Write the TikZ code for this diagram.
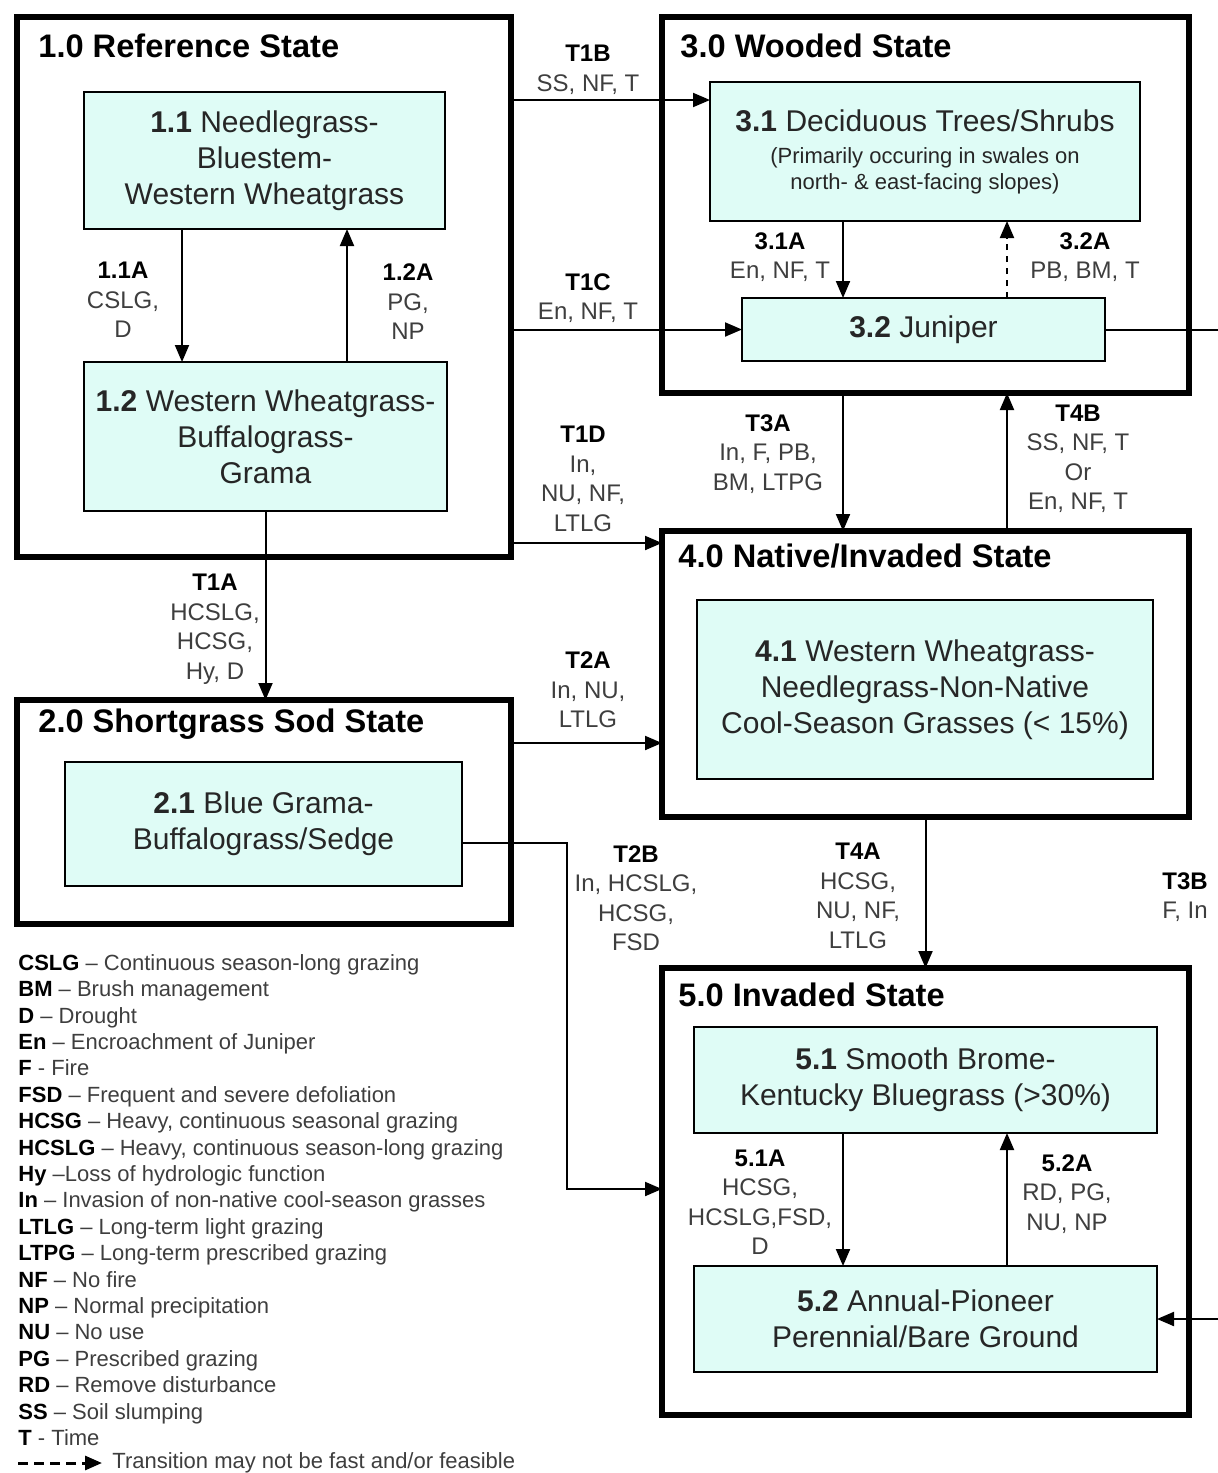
\documentclass[tikz,border=0pt]{standalone}
\usepackage{fontspec}
\setmainfont{Liberation Sans}
\usepackage{tikz}
\usepackage{xcolor}
\usetikzlibrary{arrows.meta}
\definecolor{boxfill}{RGB}{223,252,246}
\definecolor{lblgray}{RGB}{62,62,62}
\newcommand{\tcode}[1]{{\color{black}\bfseries #1}}
\newcommand{\subnote}[1]{{\fontsize{11}{13}\selectfont #1}}

\begin{document}
\begin{tikzpicture}[x=0.5pt,y=-0.5pt,>={Triangle[length=8.5pt,width=7pt]},
    state/.style={draw,line width=3pt,inner sep=0pt,outer sep=0pt},
    title/.style={anchor=west,inner sep=0pt,font=\fontsize{16.3}{19}\selectfont\bfseries},
    gbox/.style={draw,line width=1pt,fill=boxfill,inner sep=0pt,outer sep=0pt,align=center,
        text=black!85,font=\fontsize{15}{18}\selectfont},
    lbl/.style={align=center,inner sep=0pt,text=lblgray,font=\fontsize{12}{14.75}\selectfont},
    legend/.style={align=left,inner sep=0pt,text=lblgray,font=\fontsize{11}{13.2}\selectfont}]
        \useasboundingbox (0,0) rectangle (1218,1473);

        \node[state,minimum width=247pt,minimum height=270pt] (s1) at (264,287) {};
        \node[state,minimum width=247pt,minimum height=112pt] (s2) at (264,812) {};
        \node[state,minimum width=263.5pt,minimum height=188pt] (s3) at (925.5,205) {};
        \node[state,minimum width=263.5pt,minimum height=143pt] (s4) at (925.5,674) {};
        \node[state,minimum width=263.5pt,minimum height=223.5pt] (s5) at (925.5,1191.5) {};

        \node[title] (t1) at (38,46) {1.0 Reference State};
        \node[title] (t2) at (38,724) {2.0 Shortgrass Sod State};
        \node[title] (t3) at (680,46) {3.0 Wooded State};
        \node[title] (t4) at (678,556) {4.0 Native/Invaded State};
        \node[title] (t5) at (678,995) {5.0 Invaded State};

        \node[gbox,minimum width=180.5pt,minimum height=68.5pt] (b11) at (264.5,160.5)
            {\textbf{1.1} Needlegrass-\\Bluestem-\\Western Wheatgrass};
        \node[gbox,minimum width=181.5pt,minimum height=74.5pt] (b12) at (265.5,436.5)
            {\textbf{1.2} Western Wheatgrass-\\Buffalograss-\\Grama};
        \node[gbox,minimum width=198.5pt,minimum height=62pt] (b21) at (263.5,824)
            {\textbf{2.1} Blue Grama-\\Buffalograss/Sedge};
        \node[gbox,minimum width=215pt,minimum height=69.5pt] (b31) at (925,151.5)
            {\textbf{3.1} Deciduous Trees/Shrubs\\[-2pt]\subnote{(Primarily occuring in swales on}\\[-5pt]
             \subnote{north- \& east-facing slopes)}};
        \node[gbox,minimum width=181.5pt,minimum height=31.5pt] (b32) at (923.5,329.5)
            {\textbf{3.2} Juniper};
        \node[gbox,minimum width=228pt,minimum height=89.5pt] (b41) at (925,689.5)
            {\textbf{4.1} Western Wheatgrass-\\Needlegrass-Non-Native\\Cool-Season Grasses (< 15\%)};
        \node[gbox,minimum width=231.5pt,minimum height=53pt] (b51) at (925.5,1080)
            {\textbf{5.1} Smooth Brome-\\Kentucky Bluegrass (>30\%)};
        \node[gbox,minimum width=231.5pt,minimum height=53pt] (b52) at (925.5,1319)
            {\textbf{5.2} Annual-Pioneer\\Perennial/Bare Ground};

        \draw[->,line width=1pt] (b11.south -| 182,0) -- (b12.north -| 182,0);
        \draw[->,line width=1pt] (b12.north -| 347,0) -- (b11.south -| 347,0);
        \draw[->,line width=1pt] (b12.south) -- (b12.south |- s2.north);
        \draw[->,line width=1pt] (s1.east |- 0,100) -- (b31.west |- 0,100);
        \draw[->,line width=1pt] (s1.east |- b32.west) -- (b32.west);
        \draw[->,line width=1pt] (s1.east |- 0,543) -- (s4.west |- 0,543);
        \draw[->,line width=1pt] (s2.east |- 0,743) -- (s4.west |- 0,743);
        \draw[->,line width=1pt] (b21.east |- 0,843) -- ++(105,0) |- (s5.west |- 0,1189);
        \draw[->,line width=1pt] (b31.south -| 843,0) -- (b32.north -| 843,0);
        \draw[->,line width=1pt,dashed] (b32.north -| 1007,0) -- (b31.south -| 1007,0);
        \draw[->,line width=1pt] (s3.south -| 843,0) -- (s4.north -| 843,0);
        \draw[->,line width=1pt] (s4.north -| 1007,0) -- (s3.south -| 1007,0);
        \draw[->,line width=1pt] (s4.south) -- (s5.north);
        \draw[->,line width=1pt] (b51.south -| 843,0) -- (b52.north -| 843,0);
        \draw[->,line width=1pt] (b52.north -| 1007,0) -- (b51.south -| 1007,0);
        \draw[->,line width=1pt] (b32.east) -- ++(116,0) |- (b52.east);

        \node[lbl] (l11a) at (123,300) {\tcode{1.1A}\\CSLG,\\D};
        \node[lbl] (l12a) at (408,302) {\tcode{1.2A}\\PG,\\NP};
        \node[lbl] (l1a) at (215,629) {\tcode{T1A}\\HCSLG,\\HCSG,\\Hy, D};
        \node[lbl] (l1b) at (588,70) {\tcode{T1B}\\SS, NF, T};
        \node[lbl] (l1c) at (588,298) {\tcode{T1C}\\En, NF, T};
        \node[lbl] (l1d) at (583,479) {\tcode{T1D}\\In,\\NU, NF,\\LTLG};
        \node[lbl] (l2a) at (588,690) {\tcode{T2A}\\In, NU,\\LTLG};
        \node[lbl] (l2b) at (636,898) {\tcode{T2B}\\In, HCSLG,\\HCSG,\\FSD};
        \node[lbl] (l31a) at (780,257) {\tcode{3.1A}\\En, NF, T};
        \node[lbl] (l32a) at (1085,257) {\tcode{3.2A}\\PB, BM, T};
        \node[lbl] (l3a) at (768,454) {\tcode{T3A}\\In, F, PB,\\BM, LTPG};
        \node[lbl] (l4b) at (1078,459) {\tcode{T4B}\\SS, NF, T\\Or\\En, NF, T};
        \node[lbl] (l4a) at (858,896) {\tcode{T4A}\\HCSG,\\NU, NF,\\LTLG};
        \node[lbl] (l3b) at (1185,897) {\tcode{T3B}\\F, In};
        \node[lbl] (l51a) at (760,1202) {\tcode{5.1A}\\HCSG,\\HCSLG,FSD,\\D};
        \node[lbl] (l52a) at (1067,1194) {\tcode{5.2A}\\RD, PG,\\NU, NP};

        \node[legend,anchor=north west] (key) at (18,954) {%
            \tcode{CSLG} -- Continuous season-long grazing\\
            \tcode{BM} -- Brush management\\
            \tcode{D} -- Drought\\
            \tcode{En} -- Encroachment of Juniper\\
            \tcode{F} - Fire\\
            \tcode{FSD} -- Frequent and severe defoliation\\
            \tcode{HCSG} -- Heavy, continuous seasonal grazing\\
            \tcode{HCSLG} -- Heavy, continuous season-long grazing\\
            \tcode{Hy} --Loss of hydrologic function\\
            \tcode{In} -- Invasion of non-native cool-season grasses\\
            \tcode{LTLG} -- Long-term light grazing\\
            \tcode{LTPG} -- Long-term prescribed grazing\\
            \tcode{NF} -- No fire\\
            \tcode{NP} -- Normal precipitation\\
            \tcode{NU} -- No use\\
            \tcode{PG} -- Prescribed grazing\\
            \tcode{RD} -- Remove disturbance\\
            \tcode{SS} -- Soil slumping\\
            \tcode{T} - Time};
        \coordinate (keystart) at (18,1463);
        \node[legend,anchor=west] (keyarrow) at (112,1463) {Transition may not be fast and/or feasible};
        \draw[->,line width=1.5pt,dash pattern=on 5pt off 3pt] (keystart) -- ([xshift=-5pt]keyarrow.west);
\end{tikzpicture}
\end{document}
